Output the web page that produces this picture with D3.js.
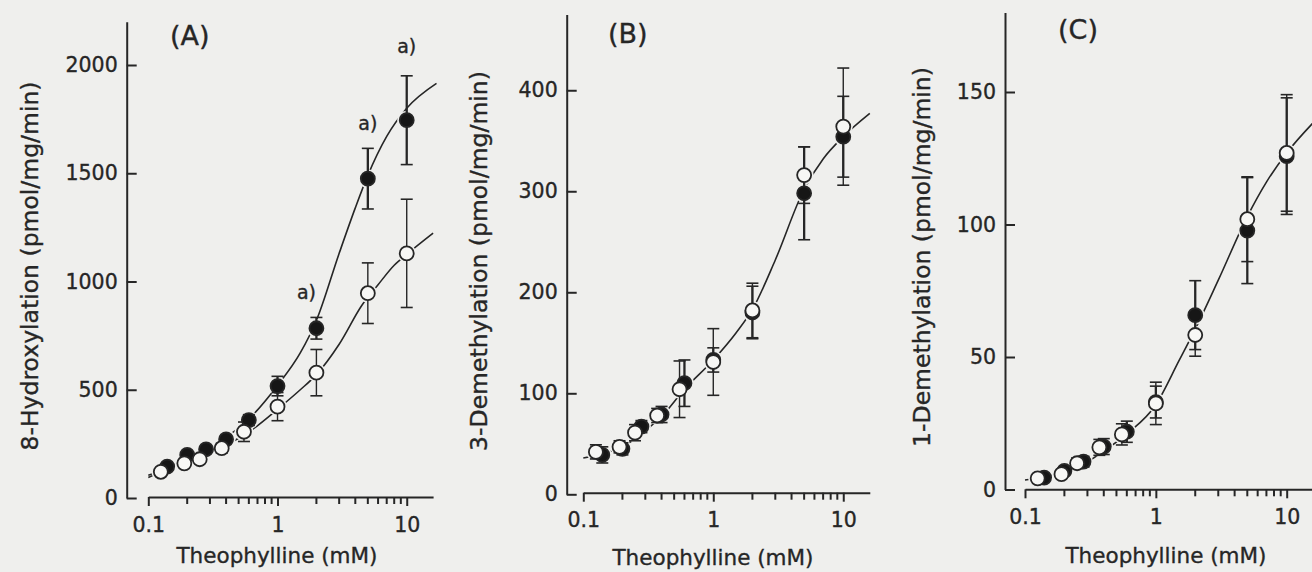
<!DOCTYPE html>
<html>

<head>
    <meta charset="utf-8">
    <title>Theophylline metabolism</title>
    <script src="https://cdn.jsdelivr.net/npm/d3@7"></script>
    <style>
        body { margin: 0; background: #efefed; }
        svg { display: block; }
        text { stroke: #262626; stroke-width: 0.35px; }
    </style>
</head>

<body>
    <script>
    // ---- data ----
    let xMajor = [0.1, 1, 10];
    let xMinor = [0.2, 0.3, 0.4, 0.5, 0.6, 0.7, 0.8, 0.9, 2, 3, 4, 5, 6, 7, 8, 9];

    // open circles and filled circles are plotted slightly apart on x
    let openX = [0.125, 0.19, 0.25, 0.37, 0.55, 1, 2, 5, 10];
    let fillX = [0.14, 0.2, 0.28, 0.4, 0.6, 1, 2, 5, 10];

    // (A) 8-hydroxylation
    let aTicks = [0, 500, 1000, 1500, 2000];
    let aOpen = [121, 160, 179, 230, 306, 422, 579, 946, 1130];
    let aOpenSd = [10, 12, 15, 22, 45, 65, 107, 140, 250];
    let aFill = [145, 199, 225, 271, 360, 517, 784, 1475, 1745];
    let aFillSd = [10, 12, 15, 18, 25, 45, 50, 140, 205];
    let aOpenCurveX = [0.1, 0.15, 0.2, 0.3, 0.4, 0.6, 1, 1.5, 2, 3, 4.5, 6, 8, 10, 16];
    let aOpenCurveY = [105, 140, 165, 210, 245, 305, 410, 500, 570, 710, 890, 985, 1075, 1125, 1223];
    let aFillCurveX = [0.1, 0.15, 0.2, 0.3, 0.4, 0.6, 1, 1.5, 2, 3, 4, 5, 7, 10, 17];
    let aFillCurveY = [95, 145, 190, 235, 280, 365, 520, 670, 820, 1130, 1340, 1490, 1670, 1800, 1915];
    let aMarks = [2, 5, 10];   // points flagged "a)"

    // (B) 3-demethylation
    let bTicks = [0, 100, 200, 300, 400];
    let bOpen = [42, 47, 61, 78, 104, 131, 182, 316, 364];
    let bOpenSd = [7, 6, 8, 7, 28, 33, 27, 28, 58];
    let bFill = [39, 45, 67, 79, 110, 133, 180, 298, 354];
    let bFillSd = [8, 6, 6, 8, 23, 12, 26, 46, 40];
    let bCurveX = [0.1, 0.15, 0.2, 0.3, 0.4, 0.6, 1, 1.5, 2, 3, 5, 7, 10, 16];
    let bCurveY = [36, 41, 47, 63, 77, 104, 133, 160, 183, 232, 302, 332, 354, 377];

    // (C) 1-demethylation
    let cTicks = [0, 50, 100, 150];
    let cOpen = [4.2, 5.8, 9.9, 15.9, 20.8, 32.5, 58.3, 102, 127];
    let cOpenSd = [1, 1.5, 2, 3, 4, 8, 8, 16, 22];
    let cFill = [4.5, 7, 10.5, 16.2, 21.8, 33, 65.8, 97.7, 125.8];
    let cFillSd = [1, 1.5, 2, 3, 4, 6, 13, 20, 22];
    let cCurveX = [0.1, 0.15, 0.2, 0.3, 0.4, 0.6, 1, 1.5, 2, 3, 5, 7, 10, 16];
    let cCurveY = [3.6, 5, 6.8, 10.5, 14.5, 21, 32, 48.5, 60.5, 79, 103, 116, 127, 138.5];

    // ---- canvas ----
    let width = 1312,
        height = 572;
    let bg = '#efefed',
        ink = '#262626',
        font = '"DejaVu Sans", Verdana, sans-serif';

    let svg = d3.select('body').append('svg').attr('width', width).attr('height', height);
    svg.append('rect').attr('width', width).attr('height', height).attr('fill', bg);

    let zip = (xs, ys) => xs.map((v, i) => [v, ys[i]]);

    // layout of the three panels
    let panels = [{
        tag: '(A)', tagX: 170, tagY: 45,
        yTitle: '8-Hydroxylation (pmol/mg/min)', yTitleX: 38, yTitleY: 266,
        xTitleX: 277, xTitleY: 563,
        xRange: [148.3, 433.1], xAxisY: 497,
        yAxisX: 126.7, yMax: 2200, yRange: [498, 21.7], yTicks: aTicks,
        series: [
            { filled: true, x: fillX, y: aFill, sd: aFillSd },
            { filled: false, x: openX, y: aOpen, sd: aOpenSd }
        ],
        curves: [zip(aFillCurveX, aFillCurveY), zip(aOpenCurveX, aOpenCurveY)],
        marks: aMarks
    }, {
        tag: '(B)', tagX: 608, tagY: 43,
        yTitle: '3-Demethylation (pmol/mg/min)', yTitleX: 487, yTitleY: 261,
        xTitleX: 713, xTitleY: 565,
        xRange: [583.3, 869.8], xAxisY: 492.7,
        yAxisX: 566.7, yMax: 475, yRange: [494.3, 14.5], yTicks: bTicks,
        series: [
            { filled: true, x: fillX, y: bFill, sd: bFillSd },
            { filled: false, x: openX, y: bOpen, sd: bOpenSd }
        ],
        curves: [zip(bCurveX, bCurveY)],
        marks: []
    }, {
        tag: '(C)', tagX: 1058, tagY: 38.5,
        yTitle: '1-Demethylation (pmol/mg/min)', yTitleX: 930, yTitleY: 257,
        xTitleX: 1166, xTitleY: 563,
        xRange: [1025, 1313.4], xAxisY: 489.3,
        yAxisX: 1005, yMax: 180, yRange: [489.5, 12.5], yTicks: cTicks,
        series: [
            { filled: true, x: fillX, y: cFill, sd: cFillSd },
            { filled: false, x: openX, y: cOpen, sd: cOpenSd }
        ],
        curves: [zip(cCurveX, cCurveY)],
        marks: []
    }];

    function styleAxis(g) {
        g.attr('font-size', 20.5).attr('font-family', font).attr('color', ink);
        g.select('.domain').attr('stroke-width', 2);
        g.selectAll('.tick line').attr('stroke-width', 2);
    }

    panels.forEach(function(p) {
        let g = svg.append('g');

        let x = d3.scaleLog().domain([0.1, 16]).range(p.xRange);
        let y = d3.scaleLinear().domain([0, p.yMax]).range(p.yRange);

        // x axis: labelled decades
        g.append('g')
            .attr('transform', 'translate(0,' + p.xAxisY + ')')
            .call(d3.axisBottom(x).tickValues(xMajor).tickFormat(d3.format('~g'))
                .tickSize(9).tickSizeOuter(0).tickPadding(11))
            .call(styleAxis);

        // minor ticks
        g.selectAll('.minor')
            .data(xMinor)
            .enter()
            .append('line')
            .attr('class', 'minor')
            .attr('x1', d => x(d)).attr('x2', d => x(d))
            .attr('y1', p.xAxisY).attr('y2', p.xAxisY + 7)
            .attr('stroke', ink)
            .attr('stroke-width', 2);

        // y axis: ticks point into the plot
        g.append('g')
            .attr('transform', 'translate(' + p.yAxisX + ',0)')
            .call(d3.axisLeft(y).tickValues(p.yTicks).tickFormat(d3.format('d'))
                .tickSizeInner(-10).tickSizeOuter(0).tickPadding(9))
            .call(styleAxis);

        // fitted curves
        let line = d3.line().x(d => x(d[0])).y(d => y(d[1])).curve(d3.curveMonotoneX);
        g.selectAll('.curve')
            .data(p.curves)
            .enter()
            .append('path')
            .attr('class', 'curve')
            .attr('d', line)
            .attr('fill', 'none')
            .attr('stroke', ink)
            .attr('stroke-width', 1.6);

        // break the curves around the symbols
        p.series.forEach(function(s) {
            g.selectAll(null)
                .data(s.y)
                .enter()
                .append('circle')
                .attr('cx', (d, i) => x(s.x[i]))
                .attr('cy', d => y(d))
                .attr('r', 9.5)
                .attr('fill', bg);
        });

        // error bars
        p.series.forEach(function(s) {
            let eb = g.selectAll(null)
                .data(s.y)
                .enter()
                .append('g')
                .attr('stroke', ink)
                .attr('stroke-width', s.filled ? 2.3 : 1.4);
            eb.append('line')
                .attr('x1', (d, i) => x(s.x[i])).attr('x2', (d, i) => x(s.x[i]))
                .attr('y1', (d, i) => y(d - s.sd[i])).attr('y2', (d, i) => y(d + s.sd[i]));
            [-1, 1].forEach(function(sign) {
                eb.append('line')
                    .attr('x1', (d, i) => x(s.x[i]) - 6).attr('x2', (d, i) => x(s.x[i]) + 6)
                    .attr('y1', (d, i) => y(d + sign * s.sd[i]))
                    .attr('y2', (d, i) => y(d + sign * s.sd[i]))
                    .attr('stroke-width', 1.6);
            });
        });

        // symbols: filled first, open on top
        p.series.forEach(function(s) {
            g.selectAll(null)
                .data(s.y)
                .enter()
                .append('circle')
                .attr('cx', (d, i) => x(s.x[i]))
                .attr('cy', d => y(d))
                .attr('r', 7)
                .attr('fill', s.filled ? '#161616' : '#f7f7f5')
                .attr('stroke', ink)
                .attr('stroke-width', 1.8);
        });

        // "a)" significance labels above the filled series
        let fs = p.series[0];
        g.selectAll('.mark')
            .data(p.marks)
            .enter()
            .append('text')
            .attr('class', 'mark')
            .attr('x', d => x(d) + (d === 2 ? -10 : 0))
            .attr('y', function(d) {
                let i = fs.x.indexOf(d);
                return y(fs.y[i] + fs.sd[i]) - (d === 10 ? 23 : 18);
            })
            .attr('text-anchor', 'middle')
            .attr('font-family', font)
            .attr('font-size', 19)
            .attr('fill', ink)
            .text('a)');

        // panel tag
        g.append('text')
            .attr('x', p.tagX).attr('y', p.tagY)
            .attr('font-family', font).attr('font-size', 27)
            .attr('fill', ink)
            .text(p.tag);

        // axis titles
        g.append('text')
            .attr('x', p.xTitleX).attr('y', p.xTitleY)
            .attr('text-anchor', 'middle')
            .attr('font-family', font).attr('font-size', 21.5)
            .attr('fill', ink)
            .text('Theophylline (mM)');
        g.append('text')
            .attr('transform', 'translate(' + p.yTitleX + ',' + p.yTitleY + ') rotate(-90)')
            .attr('text-anchor', 'middle')
            .attr('font-family', font).attr('font-size', 23.5)
            .attr('fill', ink)
            .text(p.yTitle);
    });
    </script>
</body>

</html>
